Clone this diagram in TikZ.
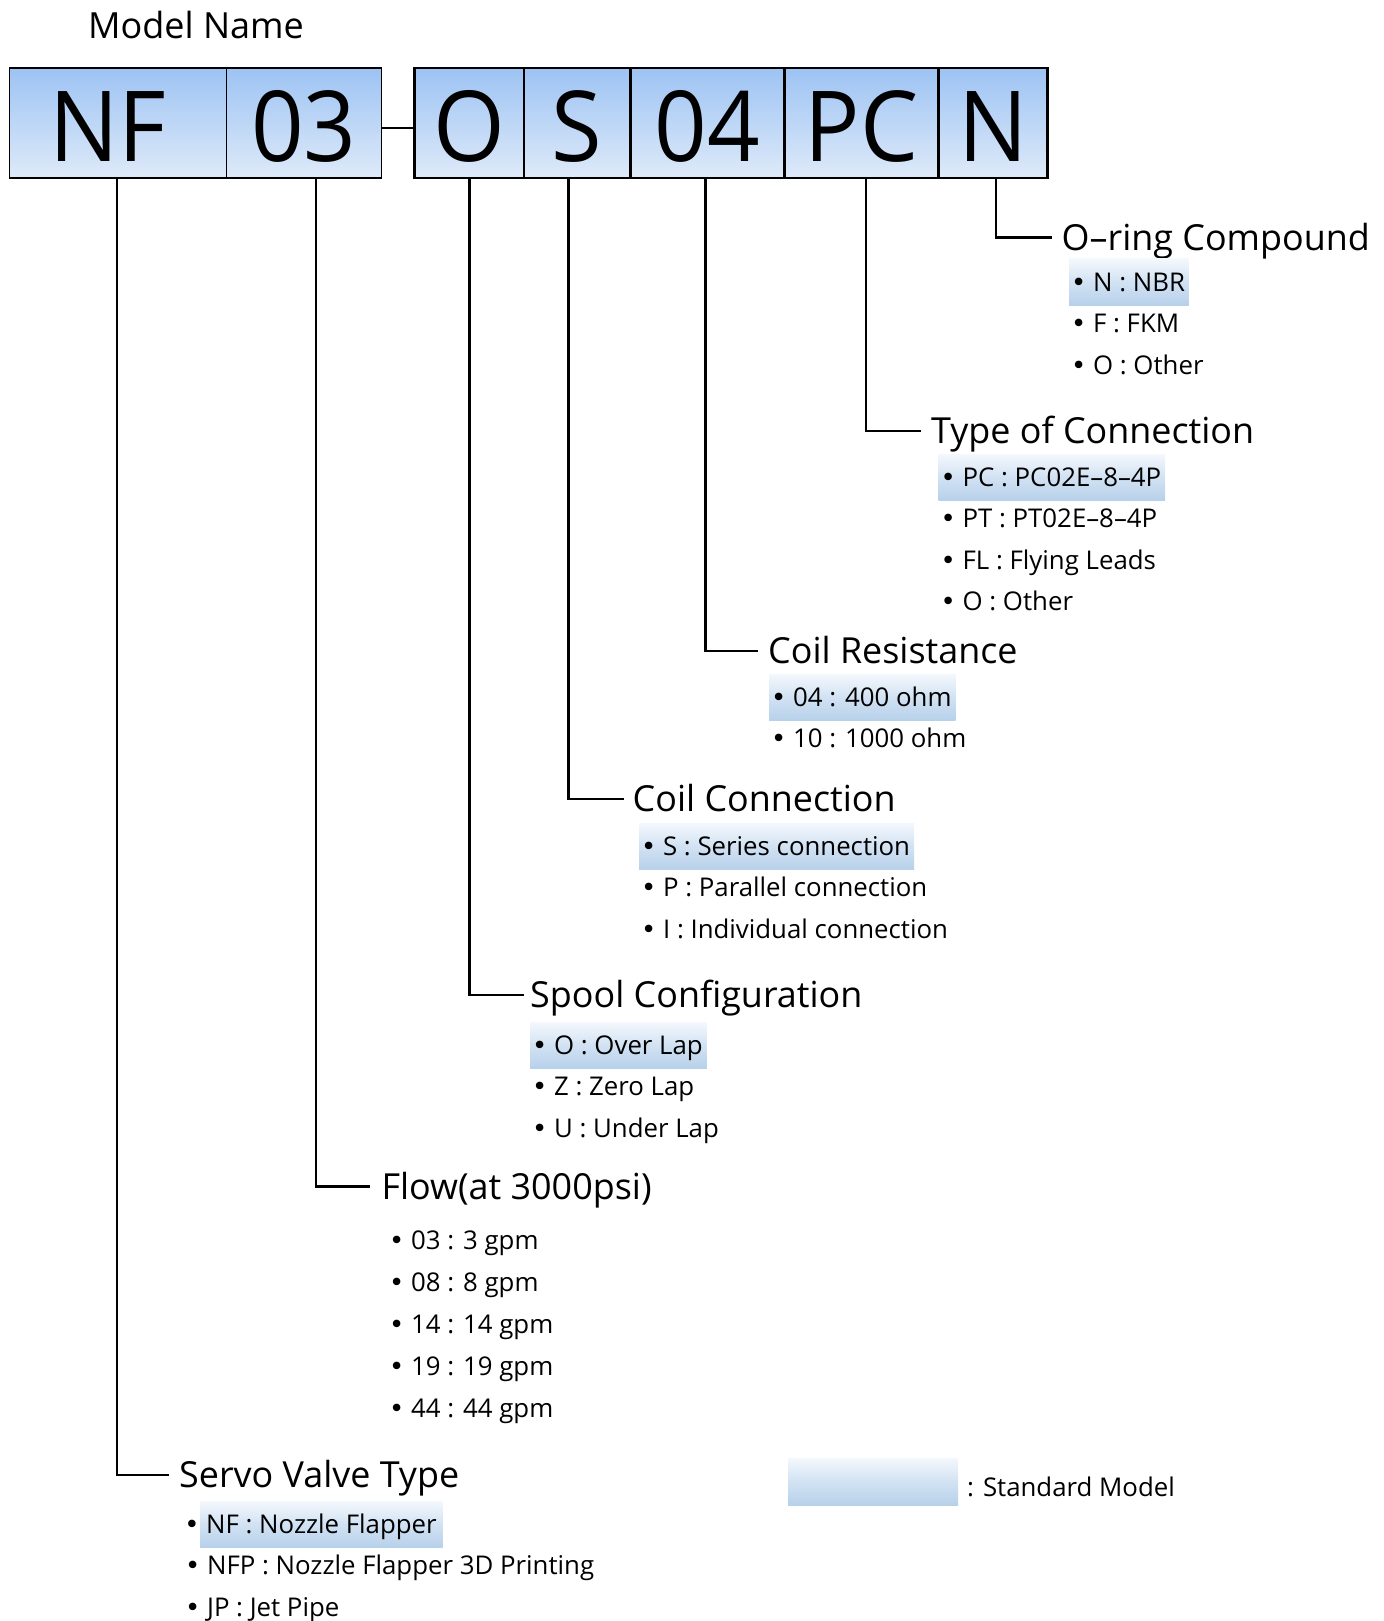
\documentclass[tikz,border=0pt]{standalone}
\usepackage{fontspec}
\setmainfont{Open Sans}
\newfontfamily\bulletfont{DejaVu Sans}
\newcommand{\bul}{\hspace*{-2pt}{\bulletfont •}}
\newcommand{\outbul}{\llap{{\bulletfont •}\ }}
\newcommand{\bigcode}[1]{\raisebox{-4pt}{\scalebox{0.94}[1]{#1}}}
\definecolor{boxtop}{HTML}{9DC3F3}
\definecolor{boxbot}{HTML}{DEEAF9}
\definecolor{hltop}{HTML}{F4F8FD}
\definecolor{hlmid}{HTML}{D2E2F3}
\definecolor{hlbot}{HTML}{B7D1EA}
\tikzset{
  code/.style={draw=black, line width=1.5pt, top color=boxtop, bottom color=boxbot,
    minimum height=110pt, inner sep=0pt, font=\fontsize{98}{98}\selectfont,
    text height=70pt, text depth=0pt},
  codeb/.style={code, line width=2.6pt},
  conn/.style={line width=2.6pt},
  title/.style={anchor=west, inner sep=0pt, font=\fontsize{35.9}{40}\selectfont,
    text height=25.8pt, text depth=0pt},
  item/.style={anchor=west, inner xsep=4pt, inner ysep=0pt, minimum height=46pt,
    font=\fontsize{25.8}{28}\selectfont, text height=18.5pt, text depth=0pt},
  std/.style={item, top color=hltop, bottom color=hlbot, middle color=hlmid},
}
\begin{document}
\begin{tikzpicture}[x=1pt, y=-1pt]
\useasboundingbox (0,0) rectangle (1383,1621);

% heading
\node[inner sep=0pt, font=\fontsize{36}{38}\selectfont, text height=25.7pt, text depth=0pt]
  (mname) at (196,26) {Model Name};

% model code boxes
\node[code, minimum width=217.1pt] (bnf) at (117.85,123) {\hspace*{-20pt}\bigcode{NF}};
\node[code, minimum width=155pt]   (b03) at (303.9,123)  {\bigcode{03}};
\node[codeb, minimum width=109.5pt] (bo)  at (469.25,123) {\bigcode{O}};
\node[codeb, minimum width=106.5pt] (bs)  at (577.25,123) {\bigcode{S}};
\node[codeb, minimum width=154pt]   (b04) at (707.5,123)  {\bigcode{04}};
\node[codeb, minimum width=154pt]   (bpc) at (861.5,123)  {\bigcode{PC}};
\node[codeb, minimum width=109pt]   (bn)  at (993,123)    {\bigcode{N}};
\draw[conn] ([yshift=-5pt]b03.east) -- ([yshift=-5pt]bo.west);

% section titles
\node[title] (tor) at (1061.5,237.7) {O–ring Compound};
\node[title] (tty) at (931,431)      {Type of Connection};
\node[title] (tcr) at (768,651)      {Coil Resistance};
\node[title] (tcc) at (632.5,799)    {Coil Connection};
\node[title] (tsp) at (530,995)      {Spool Configuration};
\node[title] (tfl) at (381.4,1186.6) {Flow(at 3000psi)};
\node[title] (tsv) at (179,1475)     {Servo Valve Type};

% leader lines
\draw[conn] ([xshift=3pt]bn.south)     |- ([xshift=-10pt]tor.west);
\draw[conn] ([xshift=4.5pt]bpc.south)  |- ([xshift=-10pt]tty.west);
\draw[conn] ([xshift=-2pt]b04.south)   |- ([xshift=-10pt]tcr.west);
\draw[conn] ([xshift=-8.75pt]bs.south) |- ([xshift=-9pt]tcc.west);
\draw[conn] ([xshift=0.25pt]bo.south)  |- ([xshift=-6pt]tsp.west);
\draw[conn] ([xshift=12.1pt]b03.south) |- ([xshift=-11pt]tfl.west);
\draw[conn] ([xshift=-0.85pt]bnf.south)|- ([xshift=-10pt]tsv.west);

% O-ring compound
\node[std]  (or1) at (1069,282)   {\bul\ N : NBR};
\node[item] (or2) at (1069,323.5) {\bul\ F : FKM};
\node[item] (or3) at (1069,365)   {\bul\ O : Other};

% type of connection
\node[std]  (ty1) at (938.5,477)   {\bul\ PC : PC02E–8–4P};
\node[item] (ty2) at (938.5,518.5) {\bul\ PT : PT02E–8–4P};
\node[item] (ty3) at (938.5,560)   {\bul\ FL : Flying Leads};
\node[item] (ty4) at (938.5,601.5) {\bul\ O : Other};

% coil resistance
\node[std]  (cr1) at (769,697)   {\bul\ 04 : 400 ohm};
\node[item] (cr2) at (769,738.5) {\bul\ 10 : 1000 ohm};

% coil connection
\node[std]  (cc1) at (639,846)   {\bul\ S : Series connection};
\node[item] (cc2) at (639,887.5) {\bul\ P : Parallel connection};
\node[item] (cc3) at (639,929)   {\bul\ I : Individual connection};

% spool configuration
\node[std]  (sp1) at (530,1045)   {\bul\ O : Over Lap};
\node[item] (sp2) at (530,1086.5) {\bul\ Z : Zero Lap};
\node[item] (sp3) at (530,1128)   {\bul\ U : Under Lap};

% flow
\node[item] (fl1) at (387,1240)   {\bul\ 03 : 3 gpm};
\node[item] (fl2) at (387,1282)   {\bul\ 08 : 8 gpm};
\node[item] (fl3) at (387,1324)   {\bul\ 14 : 14 gpm};
\node[item] (fl4) at (387,1366)   {\bul\ 19 : 19 gpm};
\node[item] (fl5) at (387,1408)   {\bul\ 44 : 44 gpm};

% servo valve type (highlight starts after the bullet here)
\node[std, inner xsep=6pt] (sv1) at (200,1524) {\outbul NF : Nozzle Flapper};
\node[item] (sv2) at (183,1565.5) {\bul\ NFP : Nozzle Flapper 3D Printing};
\node[item] (sv3) at (183,1607)   {\bul\ JP : Jet Pipe};

% legend
\node[std, anchor=center, minimum width=170pt, minimum height=47pt] (lgbox) at (873,1481.5) {};
\node[item] (lgtext) at (963,1487) {: Standard Model};
\end{tikzpicture}
\end{document}
